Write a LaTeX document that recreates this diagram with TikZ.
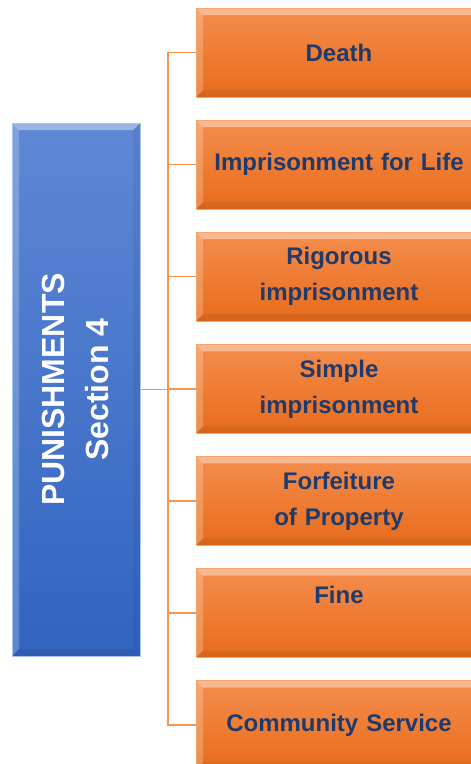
\documentclass[tikz,border=0pt]{standalone}
\usepackage{fontspec}
\setmainfont{Liberation Sans}
\usetikzlibrary{calc}

\definecolor{orTop}{HTML}{F58D4D}
\definecolor{orBot}{HTML}{E76C1B}
\definecolor{orEdge}{HTML}{F8A36C}
\definecolor{blTop}{HTML}{5E88D5}
\definecolor{blBot}{HTML}{3164C0}
\definecolor{blEdge}{HTML}{A8C3EE}
\definecolor{navy}{HTML}{1F3A6B}
\definecolor{wire}{HTML}{F59652}

\tikzset{
  bevel/.style={path picture={
    \def\b{7}
    \coordinate (nw) at (path picture bounding box.north west);
    \coordinate (ne) at (path picture bounding box.north east);
    \coordinate (sw) at (path picture bounding box.south west);
    \coordinate (se) at (path picture bounding box.south east);
    \fill[white,opacity=0.38] (nw) -- (ne) -- ($(ne)+(-\b,\b)$) -- ($(nw)+(\b,\b)$) -- cycle;
    \fill[white,opacity=0.22] (nw) -- ($(nw)+(\b,\b)$) -- ($(sw)+(\b,-\b)$) -- (sw) -- cycle;
    \fill[black,opacity=0.07] (sw) -- (se) -- ($(se)+(-\b,-\b)$) -- ($(sw)+(\b,-\b)$) -- cycle;
    \fill[black,opacity=0.05] (ne) -- (se) -- ($(se)+(-\b,-\b)$) -- ($(ne)+(-\b,\b)$) -- cycle;
  }},
  penalty/.style={bevel, draw=orEdge, line width=1pt,
    top color=orTop, bottom color=orBot,
    minimum width=286pt, minimum height=89pt, inner sep=0pt,
    text width=270pt, align=center, text=navy,
    font=\fontsize{24}{36}\selectfont\bfseries},
  headbox/.style={bevel, draw=blEdge, line width=1pt,
    top color=blTop, bottom color=blBot,
    minimum width=128pt, minimum height=533pt, inner sep=0pt},
  headtext/.style={rotate=90, text=white, align=center, inner sep=0pt,
    font=\fontsize{32}{44}\selectfont\bfseries},
  wirestyle/.style={draw=wire, line width=1.4pt}
}

\begin{document}
\begin{tikzpicture}[x=1pt,y=-1pt]
  \useasboundingbox (0,0) rectangle (471,764);
  \clip (0,0) rectangle (471,764);
  \fill[white] (0,0) rectangle (471,764);

  % heading block
  \node[headbox] (head) at (76,389.5) {};
  \node[headtext] (title) at (75,389.5) {PUNISHMENTS\\Section 4};

  % the seven punishments
  \node[penalty] (death)   at (339,52.5)  {Death};
  \node[penalty] (life)    at (339,164.6) {Imprisonment for Life};
  \node[penalty] (rigor)   at (339,276.7) {Rigorous\\imprisonment};
  \node[penalty] (simple)  at (339,388.8) {Simple\\imprisonment};
  \node[penalty] (forfeit) at (339,500.9) {Forfeiture\\of Property};
  \node[penalty] (fine)    at (339,613)   {Fine\\\mbox{}};
  \node[penalty] (service) at (339,725.1) {Community Service};

  % bus line joining the heading to each punishment
  \coordinate (bus) at (168,0);
  \draw[wirestyle] (death.west) -- (death.west -| bus) -- (service.west -| bus) -- (service.west);
  \foreach \n in {life,rigor,simple,forfeit,fine}
    \draw[wirestyle] (\n.west) -- (\n.west -| bus);
  \draw[wirestyle] (head.east) -- (head.east -| bus);
\end{tikzpicture}
\end{document}
